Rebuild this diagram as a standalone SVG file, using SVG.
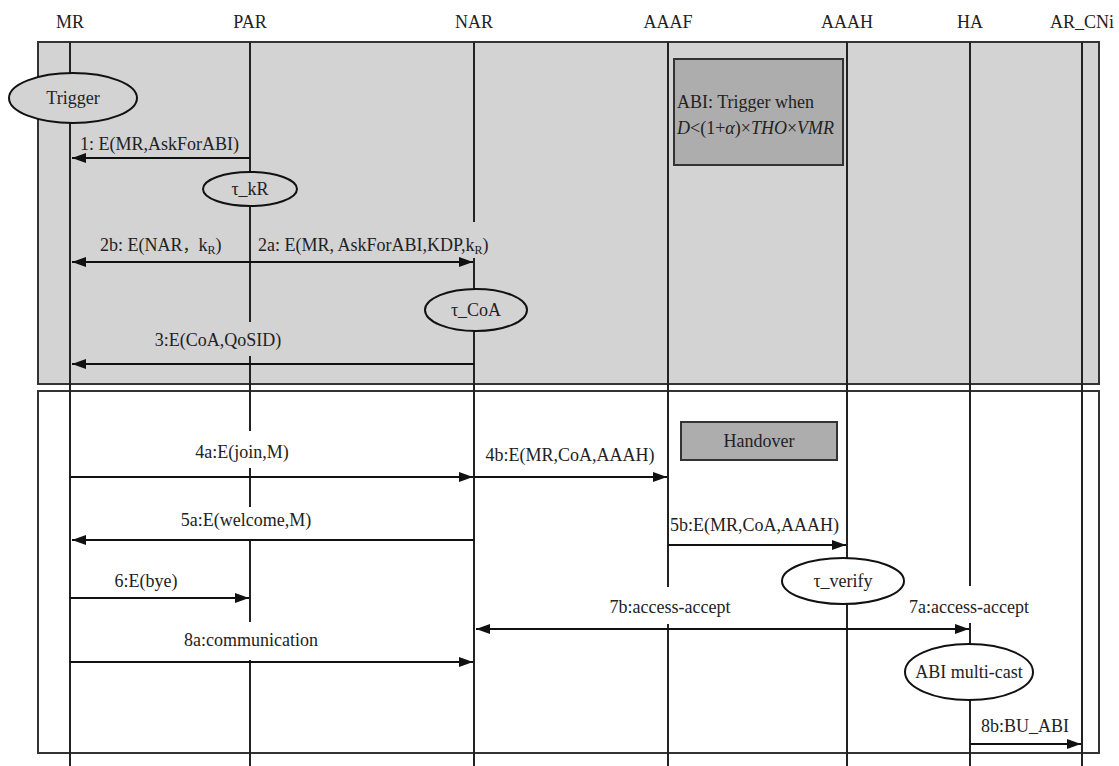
<svg xmlns="http://www.w3.org/2000/svg" width="1119" height="766" viewBox="0 0 1119 766">
<style>
text{font-family:"Liberation Serif","Times New Roman","Noto Sans CJK SC",serif;font-size:18px;fill:#222}
.c{text-anchor:middle}
.cjk{font-family:"Noto Sans CJK SC","Liberation Serif",sans-serif;font-size:16px}
.life{stroke:#222;stroke-width:2;fill:none}
.box{stroke:#333;stroke-width:2}
.msg{stroke:#111;stroke-width:2;fill:none}
.ell{stroke:#111;stroke-width:2}
.sub{font-size:12px}
</style>
<defs>
<marker id="ah" viewBox="0 0 14 10" refX="14" refY="5" markerWidth="14" markerHeight="10" markerUnits="userSpaceOnUse" orient="auto-start-reverse">
<path d="M0,0 L14,5 L0,10 Z" fill="#111"/>
</marker>
</defs>
<rect width="1119" height="766" fill="#fff"/>
<g id="frames">
<rect class="box" x="38" y="42" width="1061" height="342" fill="#d3d3d3"/>
<rect class="box" x="38" y="391" width="1061" height="362" fill="#fff"/>
</g>
<g id="lifelines">
<text class="c" x="70" y="28">MR</text>
<text class="c" x="250" y="28">PAR</text>
<text class="c" x="474" y="28">NAR</text>
<text class="c" x="668" y="28">AAAF</text>
<text class="c" x="847" y="28">AAAH</text>
<text class="c" x="970" y="28">HA</text>
<text class="c" x="1082" y="28">AR_CNi</text>
<line class="life" x1="70" y1="42" x2="70" y2="766"/>
<line class="life" x1="250" y1="42" x2="250" y2="766"/>
<line class="life" x1="474" y1="42" x2="474" y2="766"/>
<line class="life" x1="668" y1="42" x2="668" y2="766"/>
<line class="life" x1="847" y1="42" x2="847" y2="766"/>
<line class="life" x1="970" y1="42" x2="970" y2="766"/>
<line class="life" x1="1082" y1="42" x2="1082" y2="766"/>
</g>
<g id="label-masks">
<rect x="256" y="222" width="246" height="36" fill="#d3d3d3"/>
<rect x="136" y="322" width="166" height="34" fill="#d3d3d3"/>
<rect x="180" y="431" width="124" height="37" fill="#fff"/>
<rect x="180" y="507" width="132" height="34" fill="#fff"/>
<rect x="600" y="587" width="140" height="37" fill="#fff"/>
<rect x="906" y="586" width="126" height="37" fill="#fff"/>
<rect x="180" y="622" width="142" height="38" fill="#fff"/>
</g>
<g id="connectors">
<line class="msg" x1="250" y1="158" x2="72" y2="158" marker-end="url(#ah)"/>
<line class="msg" x1="72" y1="262" x2="473" y2="262" marker-start="url(#ah)" marker-end="url(#ah)"/>
<line class="msg" x1="474" y1="364" x2="72" y2="364" marker-end="url(#ah)"/>
<line class="msg" x1="70" y1="477" x2="473" y2="477" marker-end="url(#ah)"/>
<line class="msg" x1="474" y1="477" x2="667" y2="477" marker-end="url(#ah)"/>
<line class="msg" x1="474" y1="540" x2="72" y2="540" marker-end="url(#ah)"/>
<line class="msg" x1="668" y1="545" x2="846" y2="545" marker-end="url(#ah)"/>
<line class="msg" x1="70" y1="598" x2="249" y2="598" marker-end="url(#ah)"/>
<line class="msg" x1="476" y1="629" x2="969" y2="629" marker-start="url(#ah)" marker-end="url(#ah)"/>
<line class="msg" x1="70" y1="662" x2="473" y2="662" marker-end="url(#ah)"/>
<line class="msg" x1="970" y1="744" x2="1081" y2="744" marker-end="url(#ah)"/>
</g>
<g id="labels">
<text x="80" y="150">1: E(MR,AskForABI)</text>
<text x="100" y="251">2b: E(NAR<tspan class="cjk">，</tspan>k<tspan class="sub" dy="3">R</tspan><tspan dy="-3">)</tspan></text>
<text x="258" y="251">2a: E(MR, AskForABI,KDP,k<tspan class="sub" dy="3">R</tspan><tspan dy="-3">)</tspan></text>
<text class="c" x="218" y="346">3:E(CoA,QoSID)</text>
<text class="c" x="242" y="458">4a:E(join,M)</text>
<text class="c" x="570" y="461">4b:E(MR,CoA,AAAH)</text>
<text class="c" x="246" y="526">5a:E(welcome,M)</text>
<text x="670" y="531">5b:E(MR,CoA,AAAH)</text>
<text class="c" x="146" y="587">6:E(bye)</text>
<text class="c" x="670" y="613">7b:access-accept</text>
<text class="c" x="969" y="613">7a:access-accept</text>
<text class="c" x="251" y="646">8a:communication</text>
<text class="c" x="1025" y="732">8b:BU_ABI</text>
</g>
<g id="trigger">
<ellipse class="ell" cx="73" cy="98" rx="64" ry="25" fill="#d3d3d3"/>
<text class="c" x="73" y="104">Trigger</text>
</g>
<g id="tau_kR">
<ellipse class="ell" cx="250" cy="189" rx="47" ry="17" fill="#d3d3d3"/>
<text class="c" x="250" y="195">τ_kR</text>
</g>
<g id="tau_CoA">
<ellipse class="ell" cx="476" cy="310" rx="51" ry="21" fill="#d3d3d3"/>
<text class="c" x="476" y="316">τ_CoA</text>
</g>
<g id="abi_box">
<rect class="box" x="674" y="59" width="169" height="106" fill="#adadad"/>
<text x="677" y="108">ABI: Trigger when</text>
<text x="677" y="134"><tspan font-style="italic">D</tspan>&lt;(1+<tspan font-style="italic">α</tspan>)×<tspan font-style="italic">THO</tspan>×<tspan font-style="italic">VMR</tspan></text>
</g>
<g id="handover">
<rect class="box" x="681" y="422" width="156" height="38" fill="#adadad"/>
<text class="c" x="759" y="447">Handover</text>
</g>
<g id="tau_verify">
<ellipse class="ell" cx="843" cy="581" rx="61" ry="23" fill="#fff"/>
<text class="c" x="843" y="587">τ_verify</text>
</g>
<g id="abi_multicast">
<ellipse class="ell" cx="969" cy="672" rx="64" ry="28" fill="#fff"/>
<text class="c" x="969" y="678">ABI multi-cast</text>
</g>
</svg>
